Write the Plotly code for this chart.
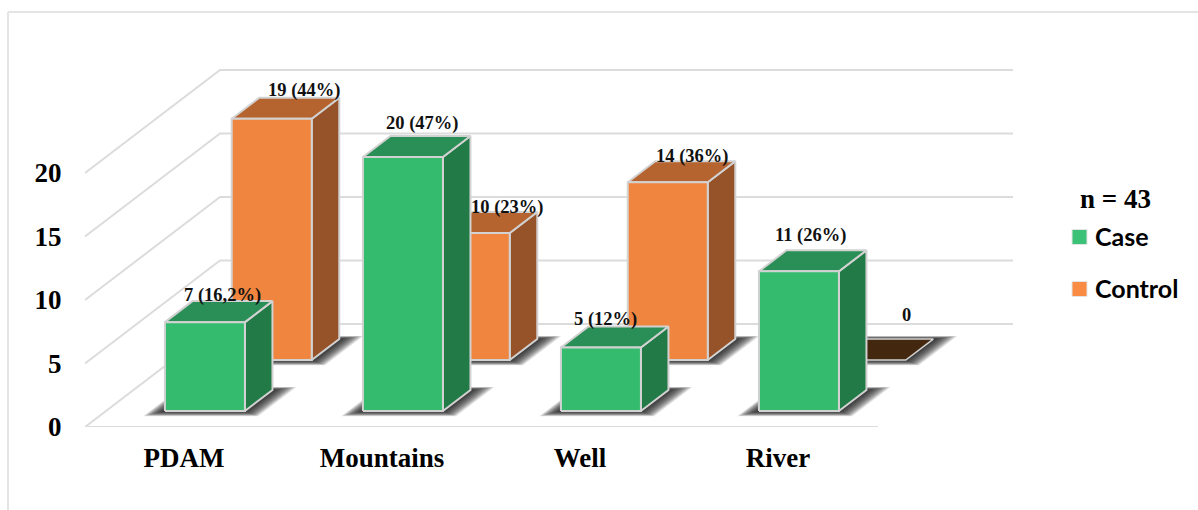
import plotly.graph_objects as go

# Water source by group
categories = ["PDAM", "Mountains", "Well", "River"]
case_values = [7, 20, 5, 11]
control_values = [19, 10, 14, 0]
case_labels = ["7 (16,2%)", "20 (47%)", "5 (12%)", "11 (26%)"]
control_labels = ["19 (44%)", "10 (23%)", "14 (36%)", "0"]
y_ticks = [0, 5, 10, 15, 20]
legend_title = "n = 43"

# Label nudges (pixels) relative to the top of each bar's front face
case_nudges = [(18, 27), (19, 34), (5, 28), (12, 36)]
control_nudges = [(32, 28), (37, 26), (24, 26), (41, 45)]

WIDTH, HEIGHT = 1198, 510
M_L, M_R, M_T, M_B = 85, 150, 20, 83
PX_PER_CAT = 198.0
PX_PER_UNIT = 12.7
X_MIN = -99 / PX_PER_CAT
FLOOR_X_MAX = X_MIN + 793 / PX_PER_CAT
X_MAX = X_MIN + (WIDTH - M_L - M_R) / PX_PER_CAT
Y_MAX = (HEIGHT - M_T - M_B) / PX_PER_UNIT

# Oblique projection: depth 1 is the back wall of the chart box
DEPTH_X = 135 / PX_PER_CAT
DEPTH_Y = 103 / PX_PER_UNIT
BAR_HALF = 40 / PX_PER_CAT
BAR_DEPTH = 0.204
CASE_DEPTH = 0.155
CONTROL_DEPTH = 0.65

GRID = "#dcdcdc"
EDGE = "#d2d2d2"
CASE_COLORS = dict(front="#35bb6e", side="#227a47", top="#2a8f56")
CONTROL_COLORS = dict(front="#f0853f", side="#96532a", top="#b5642f")
FLAT_TOP = "#44270f"


def project(x, value, depth):
    return x + depth * DEPTH_X, value + depth * DEPTH_Y


def polygon(points, fill, line=None, width=0):
    xs, ys = zip(*[project(*p) for p in points + points[:1]])
    return go.Scatter(
        x=xs, y=ys, mode="lines", fill="toself", fillcolor=fill,
        line=dict(color=line or "rgba(0,0,0,0)", width=width),
        hoverinfo="skip", showlegend=False,
    )


def line3d(points, color=GRID, width=2):
    xs, ys = zip(*[project(*p) for p in points])
    return go.Scatter(
        x=xs, y=ys, mode="lines", line=dict(color=color, width=width),
        hoverinfo="skip", showlegend=False,
    )


def shadow(cat, depth):
    # Soft floor shadow built from stacked translucent parallelograms
    traces = []
    steps = 16
    for i in range(steps):
        s = 1 - i / steps
        left = cat - BAR_HALF - s * 15 / PX_PER_CAT
        right = cat + BAR_HALF + s * 20 / PX_PER_CAT
        near = depth - s * 0.05
        far = depth + BAR_DEPTH + s * 0.03
        traces.append(polygon(
            [(left, 0, near), (right, 0, near), (right, 0, far), (left, 0, far)],
            "rgba(15,15,15,0.10)",
        ))
    return traces


def bar(cat, value, depth, colors):
    x0, x1 = cat - BAR_HALF, cat + BAR_HALF
    d0, d1 = depth, depth + BAR_DEPTH
    traces = shadow(cat, depth)
    if value == 0:
        traces.append(polygon(
            [(x0, 0, d0), (x1, 0, d0), (x1, 0, d1), (x0, 0, d1)],
            FLAT_TOP, EDGE, 1.5,
        ))
        return traces
    traces.append(polygon(
        [(x1, 0, d0), (x1, 0, d1), (x1, value, d1), (x1, value, d0)],
        colors["side"], EDGE, 2,
    ))
    traces.append(polygon(
        [(x0, value, d0), (x1, value, d0), (x1, value, d1), (x0, value, d1)],
        colors["top"], EDGE, 2,
    ))
    traces.append(polygon(
        [(x0, 0, d0), (x1, 0, d0), (x1, value, d0), (x0, value, d0)],
        colors["front"], EDGE, 2,
    ))
    return traces


fig = go.Figure()

# Side wall and back wall gridlines, plus the front floor edge
for tick in y_ticks:
    fig.add_trace(line3d([(X_MIN, tick, 0), (X_MIN, tick, 1), (FLOOR_X_MAX, tick, 1)]))
fig.add_trace(line3d([(X_MIN, 0, 0), (FLOOR_X_MAX, 0, 0)]))

# Control row sits behind the case row
for i, value in enumerate(control_values):
    fig.add_traces(bar(i, value, CONTROL_DEPTH, CONTROL_COLORS))
for i, value in enumerate(case_values):
    fig.add_traces(bar(i, value, CASE_DEPTH, CASE_COLORS))

# Value labels above the bars
for values, labels, nudges, depth in (
    (control_values, control_labels, control_nudges, CONTROL_DEPTH),
    (case_values, case_labels, case_nudges, CASE_DEPTH),
):
    for i, (value, label, (dx, dy)) in enumerate(zip(values, labels, nudges)):
        ax, ay = project(i, value, depth)
        fig.add_annotation(
            x=ax, y=ay, text=label, showarrow=False, xshift=dx, yshift=dy,
            font=dict(family="Liberation Serif", size=18.5, color="#111111", weight=700),
        )


def paper_x(px):
    return (px - M_L) / (WIDTH - M_L - M_R)


def paper_y(px):
    return (HEIGHT - M_B - px) / (HEIGHT - M_T - M_B)


# Thin frame along the top and left of the page
frame = dict(color="#e4e4e4", width=2)
fig.add_shape(type="line", xref="paper", yref="paper", line=frame,
              x0=paper_x(8), x1=paper_x(WIDTH), y0=paper_y(12), y1=paper_y(12))
fig.add_shape(type="line", xref="paper", yref="paper", line=frame,
              x0=paper_x(8), x1=paper_x(8), y0=paper_y(12), y1=paper_y(HEIGHT))

# Legend block: heading, then a colour key beside each group name
fig.add_annotation(
    xref="paper", yref="paper", x=paper_x(1115), y=paper_y(199), text=legend_title,
    xanchor="center", yanchor="middle", showarrow=False,
    font=dict(family="Liberation Serif", size=27, color="#000000", weight=700),
)
for name, color, row in (("Case", "#3cc276", 237), ("Control", "#f98b45", 289)):
    fig.add_shape(
        type="rect", xref="paper", yref="paper", fillcolor=color,
        line=dict(color="#e4e4e4", width=1),
        x0=paper_x(1072), x1=paper_x(1087), y0=paper_y(row - 7.5), y1=paper_y(row + 7.5),
    )
    fig.add_annotation(
        xref="paper", yref="paper", x=paper_x(1094), y=paper_y(row), text=name,
        xanchor="left", yanchor="middle", showarrow=False, xshift=-1, yshift=1,
        font=dict(family="Lato", size=25, color="#000000", weight=700),
    )

tick_font = dict(family="Liberation Serif", size=27, color="#000000", weight=700)

fig.update_layout(
    width=WIDTH, height=HEIGHT,
    margin=dict(l=M_L, r=M_R, t=M_T, b=M_B, pad=0),
    paper_bgcolor="white", plot_bgcolor="rgba(0,0,0,0)",
    hovermode=False, showlegend=False,
    xaxis=dict(
        range=[X_MIN, X_MAX], tickvals=list(range(len(categories))),
        ticktext=categories, tickfont=tick_font, showgrid=False, zeroline=False,
        showline=False, ticks="outside", ticklen=7, tickcolor="rgba(0,0,0,0)",
    ),
    yaxis=dict(
        range=[0, Y_MAX], tickvals=y_ticks, tickfont=tick_font, showgrid=False,
        zeroline=False, showline=False,
        ticks="outside", ticklen=17, tickcolor="rgba(0,0,0,0)",
    ),
)

fig.write_html("out.html")
